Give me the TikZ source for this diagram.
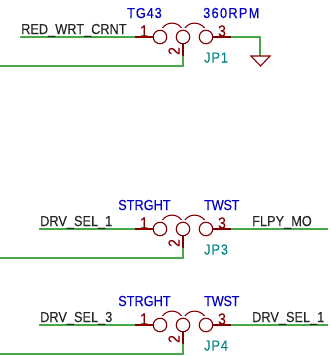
\documentclass[tikz,border=0pt]{standalone}
\usepackage{fontspec}
\setmainfont[FakeStretch=0.88,FakeBold=0.15]{Liberation Sans}
\definecolor{wirec}{RGB}{72,168,72}
\definecolor{symc}{RGB}{132,0,0}
\definecolor{valc}{RGB}{0,0,200}
\definecolor{refc}{RGB}{0,132,132}
\tikzset{
  wirel/.style={draw=wirec,line width=1.1pt},
  syml/.style={draw=symc,line width=1.1pt},
  padc/.style={circle,draw=symc,line width=1.1pt,minimum size=13.5pt,inner sep=0pt},
  kitext/.style={font=\fontsize{14.5pt}{16pt}\selectfont,inner sep=0pt},
  netl/.style={kitext,anchor=base west,text=black!85},
  vall/.style={kitext,anchor=base west,text=valc},
  refl/.style={kitext,anchor=base west,text=refc},
  pinl/.style={font=\fontsize{16pt}{16pt}\selectfont,inner sep=0pt,text=symc}
}
\newcommand{\lsp}[2]{{\addfontfeatures{LetterSpace=#1}#2}}
\newcommand{\jumper}[4]{%
  % #1 prefix, #2 pin y, #3 left value, #4 left value x
  \node[padc] (#1a) at (160,#2) {};
  \node[padc] (#1b) at (183,#2) {};
  \node[padc] (#1c) at (206,#2) {};
  \coordinate (#1p1) at (135,#2);
  \coordinate (#1p3) at (231,#2);
  \coordinate (#1p2) at (183,#2+19);
  \coordinate (#1e) at (183,#2+29);
  \coordinate (#1o) at (0,#2+29);
  \draw[syml] (#1p1) -- (#1a);
  \draw[syml] (#1c) -- (#1p3);
  \draw[syml] (#1b) -- (#1p2);
  \draw[wirel] (#1p2) -- (#1e) -- (#1o);
  \draw[syml] (162.5,#2-9) .. controls (167,#2-15.5) and (177,#2-15.5) .. (181.5,#2-9);
  \draw[syml] (185,#2-9) .. controls (189.5,#2-15.5) and (199.5,#2-15.5) .. (204.5,#2-9);
  \node[pinl] (#1n1) at (144,#2-6) {1};
  \node[pinl] (#1n3) at (222,#2-6) {3};
  \node[pinl,rotate=90] (#1n2) at (174,#2+14) {2};
  \node[vall] (#1v) at (#4,#2-19) {#3};
}
\begin{document}
\begin{tikzpicture}[x=1pt,y=-1pt]
  \useasboundingbox (0,0) rectangle (331,356);
  % JP1
  \jumper{A}{37}{\lsp{6}{TG43}}{127}
  \node[vall] (Av2) at (203,18) {\lsp{9}{360RPM}};
  \node[refl] (Ar) at (204,62.5) {\lsp{6}{JP1}};
  \coordinate (Al) at (20,37);
  \draw[wirel] (Al) -- (Ap1);
  \node[netl] (An) at (21,34) {RED\_WRT\_CRNT};
  \coordinate (Acn) at (260,37);
  \coordinate (Agt) at (260,56);
  \draw[wirel] (Ap3) -- (Acn) -- (Agt);
  \coordinate (Ag1) at (251,56);
  \coordinate (Ag2) at (270,56);
  \coordinate (Ag3) at (260.5,66);
  \draw[syml,line join=miter] (Ag1) -- (Ag2) -- (Ag3) -- cycle;
  % JP3
  \jumper{B}{229}{STRGHT}{118}
  \node[vall] (Bv2) at (204,210) {\lsp{-2}{TWST}};
  \node[refl] (Br) at (204,254.5) {\lsp{6}{JP3}};
  \coordinate (Bl) at (39,229);
  \coordinate (Brr) at (328,229);
  \draw[wirel] (Bl) -- (Bp1);
  \draw[wirel] (Bp3) -- (Brr);
  \node[netl] (Bn) at (40,226) {DRV\_SEL\_1};
  \node[netl] (Bm) at (252,226) {FLPY\_MO};
  % JP4
  \jumper{C}{325}{STRGHT}{118}
  \node[vall] (Cv2) at (204,306) {\lsp{-2}{TWST}};
  \node[refl] (Cr) at (204,350.5) {\lsp{6}{JP4}};
  \coordinate (Cl) at (39,325);
  \coordinate (Crr) at (328,325);
  \draw[wirel] (Cl) -- (Cp1);
  \draw[wirel] (Cp3) -- (Crr);
  \node[netl] (Cn) at (40,322) {DRV\_SEL\_3};
  \node[netl] (Cm) at (252,322) {DRV\_SEL\_1};
\end{tikzpicture}
\end{document}
